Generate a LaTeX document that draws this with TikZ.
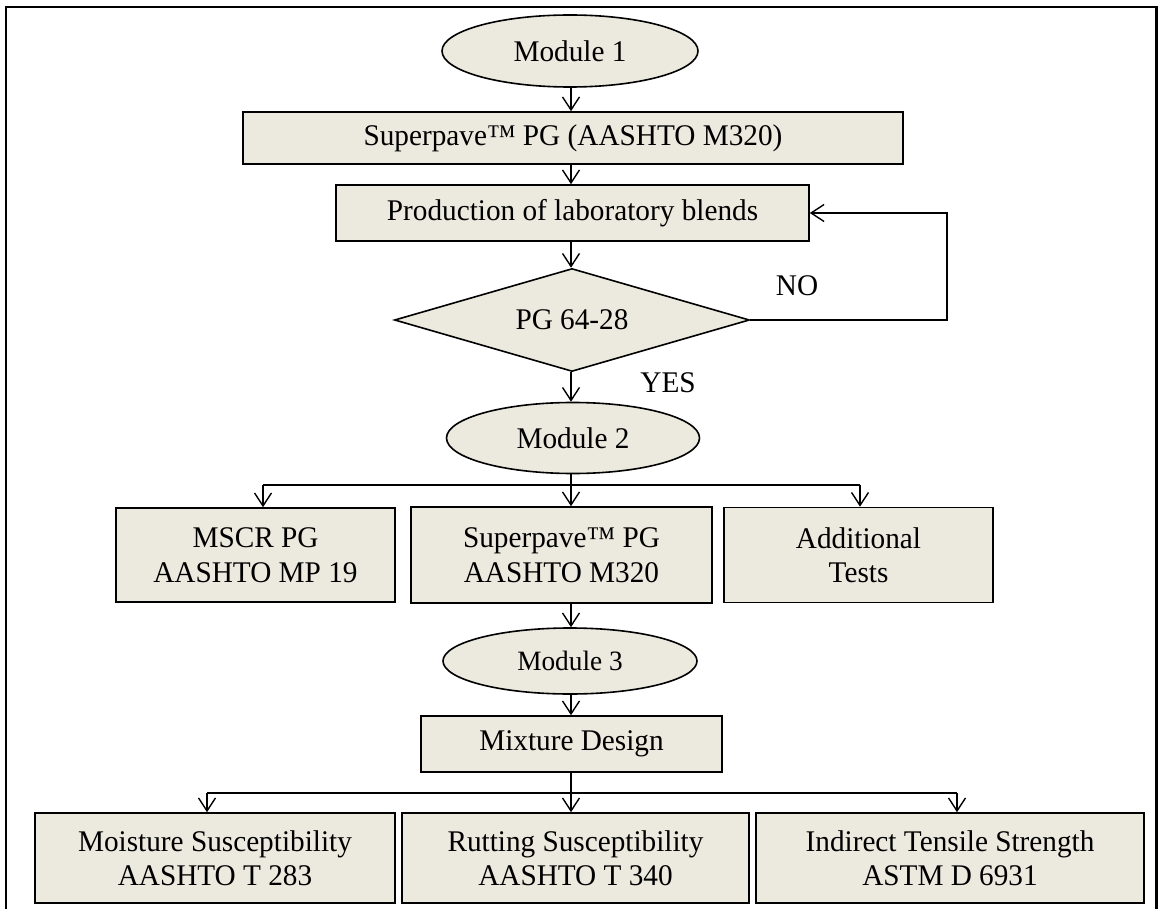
\documentclass[tikz,border=0pt]{standalone}
\usepackage{fontspec}
\setmainfont{Liberation Serif}[FakeStretch=0.975]
\usetikzlibrary{shapes.geometric,arrows.meta}
\definecolor{boxfill}{RGB}{236,234,223}
\tikzset{
  txt/.style={font=\fontsize{30}{34.5}\selectfont},
  box/.style={txt, draw=black, line width=1.6pt, fill=boxfill, rectangle, inner sep=0pt, align=center},
  oval/.style={txt, draw=black, line width=1.6pt, fill=boxfill, ellipse, inner sep=0pt},
  dia/.style={txt, draw=black, line width=1.6pt, fill=boxfill, diamond, inner sep=0pt},
  lbl/.style={txt, inner sep=0pt},
  arr/.style={line width=1.4pt, -{Straight Barb[length=13pt,width=17pt,line width=1.4pt]}},
  ln/.style={line width=1.4pt},
}
\begin{document}
\begin{tikzpicture}[x=1pt,y=-1pt]
\useasboundingbox (0,0) rectangle (1158,909);
\draw[line width=2.6pt] (6,909) -- (6,7) -- (1156.5,7) -- (1156.5,909);

\node[oval, minimum width=256pt, minimum height=72pt] (m1) at (570,51) {Module 1};
\node[box, minimum width=660pt, minimum height=52pt] (sp1) at (573,138) {Superpave™ PG (AASHTO M320)};
\node[box, minimum width=473pt, minimum height=56pt] (prod) at (572.5,213) {Production of laboratory blends};
\node[dia, minimum width=355pt, minimum height=103pt, aspect=3.45] (d) at (572,320) {PG 64-28};
\node[lbl] (no) at (797,286) {NO};
\node[lbl] (yes) at (668,383) {YES};
\node[oval, minimum width=253pt, minimum height=71pt] (m2) at (573,438) {Module 2};
\node[box, minimum width=279pt, minimum height=94pt] (mscr) at (255.5,555) {MSCR PG\\AASHTO MP 19};
\node[box, minimum width=301pt, minimum height=96pt] (sp2) at (561.5,555) {Superpave™ PG\\AASHTO M320};
\node[box, minimum width=269pt, minimum height=95pt] (add) at (858.5,555) {Additional\\Tests};
\node[oval, minimum width=254pt, minimum height=66pt, font=\fontsize{28}{32}\selectfont] (m3) at (570,661) {Module 3};
\node[box, minimum width=301pt, minimum height=56pt] (mix) at (571.5,744) {Mixture Design};
\node[box, minimum width=360pt, minimum height=90pt] (moist) at (215,858) {Moisture Susceptibility\\AASHTO T 283};
\node[box, minimum width=347pt, minimum height=90pt] (rut) at (575.5,858) {Rutting Susceptibility\\AASHTO T 340};
\node[box, minimum width=388pt, minimum height=90pt] (ind) at (950,858) {Indirect Tensile Strength\\ASTM D 6931};

\coordinate (s1) at (571,0);
\draw[arr] (s1 |- m1.south) -- (s1 |- sp1.north);
\draw[arr] (s1 |- sp1.south) -- (s1 |- prod.north);
\draw[arr] (s1 |- prod.south) -- (s1 |- d.north);
\draw[arr] (s1 |- d.south) -- (s1 |- m2.north);
\coordinate (nr) at (947,0);
\draw[arr] (d.east) -- (nr |- d.east) -- (nr |- prod.east) -- (prod.east);

\coordinate (b1) at (0,485);
\coordinate (bl) at (263,485);
\coordinate (br) at (860,485);
\draw[ln] (s1 |- m2.south) -- (s1 |- b1);
\draw[ln] (bl) -- (br);
\draw[arr] (bl) -- (bl |- mscr.north);
\draw[arr] (s1 |- b1) -- (s1 |- sp2.north);
\draw[arr] (br) -- (br |- add.north);

\draw[arr] (s1 |- sp2.south) -- (s1 |- m3.north);
\draw[arr] (s1 |- m3.south) -- (s1 |- mix.north);

\coordinate (b2) at (0,793);
\coordinate (cl) at (207,793);
\coordinate (cr) at (957,793);
\draw[ln] (s1 |- mix.south) -- (s1 |- b2);
\draw[ln] (cl) -- (cr);
\draw[arr] (cl) -- (cl |- moist.north);
\draw[arr] (s1 |- b2) -- (s1 |- rut.north);
\draw[arr] (cr) -- (cr |- ind.north);
\end{tikzpicture}
\end{document}
